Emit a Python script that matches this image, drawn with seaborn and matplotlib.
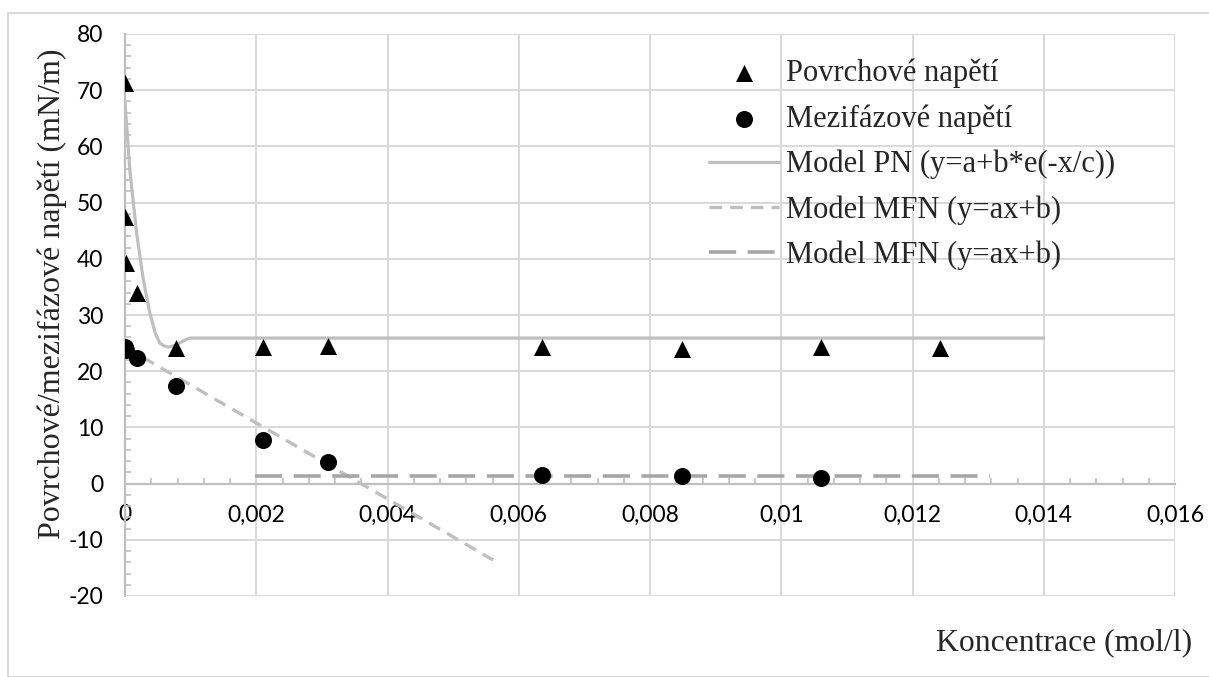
import matplotlib
matplotlib.use("Agg")
import matplotlib.pyplot as plt
import seaborn as sns
from matplotlib.ticker import MultipleLocator, FuncFormatter
from matplotlib.patches import Rectangle

# ---- data ----
pn_x = [0.0, 0.0, 0.00001, 0.00018, 0.00078, 0.00211, 0.00309, 0.00636, 0.00848, 0.01061, 0.01242]
pn_y = [71.3, 47.4, 39.2, 33.9, 24.1, 24.3, 24.4, 24.3, 24.0, 24.3, 24.2]

mfn_x = [0.0, 0.00001, 0.00018, 0.00078, 0.00211, 0.00309, 0.00636, 0.00848, 0.01061]
mfn_y = [24.3, 23.8, 22.4, 17.3, 7.7, 3.9, 1.5, 1.3, 1.0]

model_pn_x = [0.0, 0.000076, 0.000178, 0.00028, 0.00038, 0.00046, 0.00053, 0.00060,
              0.00066, 0.00076, 0.00086, 0.00094, 0.00099, 0.014]
model_pn_y = [67.8, 55.5, 44.5, 36.2, 30.3, 26.8, 25.0, 24.5,
              24.3, 24.6, 25.2, 25.7, 25.9, 25.9]

model_mfn1_x = [0.0, 0.00561]
model_mfn1_y = [24.3, -13.6]

model_mfn2_x = [0.00198, 0.01318]
model_mfn2_y = [1.4, 1.4]

labels = ["Povrchové napětí", "Mezifázové napětí", "Model PN (y=a+b*e(-x/c))",
          "Model MFN (y=ax+b)", "Model MFN (y=ax+b)"]
x_ticks = [0, 0.002, 0.004, 0.006, 0.008, 0.01, 0.012, 0.014, 0.016]
y_ticks = [-20, -10, 0, 10, 20, 30, 40, 50, 60, 70, 80]

sns.set_theme(style="white")
plt.rcParams['font.family'] = ['Lato', 'DejaVu Sans']

fig = plt.figure(figsize=(12.09, 6.77), dpi=100)
ax = fig.add_axes([125/1209, 1-596/677, (1175-125)/1209, (596-34)/677])

grid_c = "#D9D9D9"
axis_c = "#BFBFBF"

sns.lineplot(x=model_pn_x, y=model_pn_y, ax=ax, sort=False, estimator=None,
             color="#BFBFBF", lw=2.3, label=labels[2], zorder=3)
sns.lineplot(x=model_mfn1_x, y=model_mfn1_y, ax=ax, sort=False, estimator=None,
             color="#BFBFBF", lw=2.4, label=labels[3], zorder=3)
sns.lineplot(x=model_mfn2_x, y=model_mfn2_y, ax=ax, sort=False, estimator=None,
             color="#A6A6A6", lw=2.6, label=labels[4], zorder=3)
lines = ax.get_lines()
lines[0].set_solid_joinstyle("round")
lines[1].set_dashes((3.8, 2.4))
lines[2].set_dashes((7.5, 3.2))

sns.scatterplot(x=pn_x, y=pn_y, ax=ax, marker="^", s=150, color="black",
                edgecolor="black", linewidth=0, label=labels[0], zorder=4)
sns.scatterplot(x=mfn_x, y=mfn_y, ax=ax, marker="o", s=150, color="black",
                edgecolor="black", linewidth=0, label=labels[1], zorder=4)

ax.set_xlim(0, 0.016)
ax.set_ylim(-20, 80)
ax.set_xticks(x_ticks)
ax.set_yticks(y_ticks)
ax.xaxis.set_minor_locator(MultipleLocator(0.0004))
ax.yaxis.set_minor_locator(MultipleLocator(2))

def xfmt(v, pos):
    s = f"{v:.3f}".rstrip("0").rstrip(".")
    if s == "":
        s = "0"
    return s.replace(".", ",")
ax.xaxis.set_major_formatter(FuncFormatter(xfmt))
ax.yaxis.set_major_formatter(FuncFormatter(lambda v, p: f"{int(round(v))}"))

ax.grid(True, which="major", color=grid_c, lw=1.4, zorder=0)
ax.set_axisbelow(True)
for s in ["top", "right"]:
    ax.spines[s].set_visible(False)
ax.spines["left"].set_color(axis_c)
ax.spines["bottom"].set_color(axis_c)
ax.spines["left"].set_linewidth(1.6)
ax.spines["bottom"].set_linewidth(1.6)
ax.spines["bottom"].set_position(("data", 0))

ax.tick_params(which="major", direction="inout", length=9, width=1.4, color=axis_c,
               labelsize=16.5, labelcolor="black")
ax.tick_params(axis="x", which="major", pad=15, length=0)
ax.tick_params(axis="y", which="major", pad=11)
ax.tick_params(which="minor", direction="in", length=4, width=1.2, color=axis_c)
ax.tick_params(axis="y", which="minor", left=True)
ax.tick_params(axis="x", which="minor", bottom=True)

ax.set_xlabel("")
ax.set_ylabel("Povrchové/mezifázové napětí (mN/m)", family="Liberation Serif",
              fontsize=23)
ax.yaxis.set_label_coords(-0.0555, 0.538)
fig.text(1192/1209, 1-643/677, "Koncentrace (mol/l)", family="Liberation Serif",
         fontsize=22.8, ha="right", va="center")

handles, labs = ax.get_legend_handles_labels()
order = [3, 4, 0, 1, 2]
leg = ax.legend([handles[i] for i in order], [labs[i] for i in order],
                loc="upper left", bbox_to_anchor=((709-125)/1050, 1-(59-34)/562),
                frameon=False, prop={"family": "Liberation Serif", "size": 22},
                handlelength=2.3, handletextpad=0.22, labelspacing=0.52,
                borderaxespad=0, borderpad=0)

fig.patches.append(Rectangle((8/1209, 0), 1.0, 1-13/677, transform=fig.transFigure,
                             fill=False, edgecolor="#D9D9D9", lw=1.4))

fig.savefig("out.png", dpi=100)
